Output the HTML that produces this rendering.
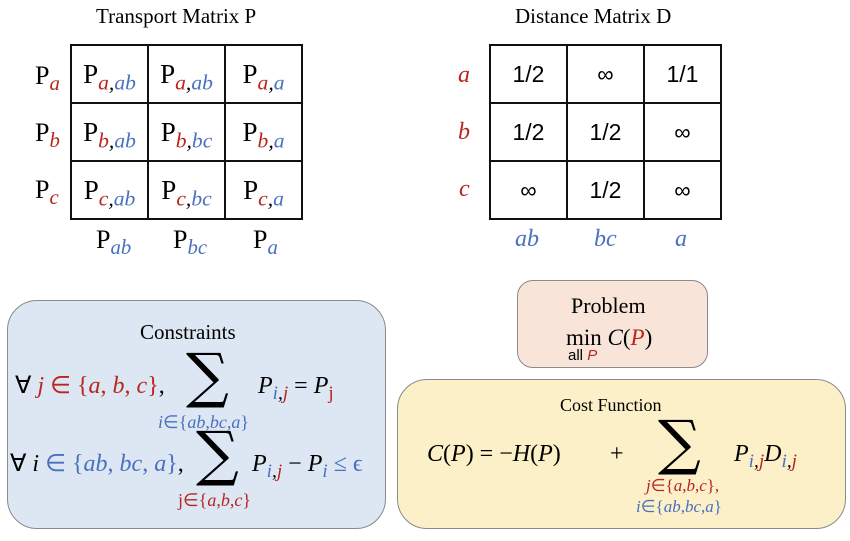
<!DOCTYPE html>
<html><head><meta charset="utf-8"><style>
body{margin:0;width:850px;height:541px;background:#fff;position:relative;overflow:hidden;font-family:"Liberation Serif",serif;color:#000}
.a{position:absolute;white-space:nowrap;line-height:1}
.r{color:#b8261e}.b{color:#4a70c0}
i{font-style:italic}
.grid{position:absolute;border-collapse:collapse}
.grid td{border:2px solid #111;padding:0;text-align:center;vertical-align:middle}
.t td{width:75px;height:56px;font-size:27px}
.d td{width:75px;height:56px;font-size:23px;font-family:"Liberation Sans",sans-serif}
sub{font-size:0.8em;font-style:italic;vertical-align:-0.3em;line-height:0}
.box{position:absolute;border:1.5px solid #8a8a8a;border-radius:30px}
.sig{font-size:60px;font-family:"DejaVu Serif",serif}
</style></head><body>
<div class="a" style="left:96px;top:6px;font-size:21px">Transport Matrix P</div>
<div class="a" style="left:515px;top:6px;font-size:21px">Distance Matrix D</div>

<table class="grid t" style="left:70px;top:44px">
<tr><td>P<sub><span class="r">a</span>,<span class="b">ab</span></sub></td><td>P<sub><span class="r">a</span>,<span class="b">ab</span></sub></td><td>P<sub><span class="r">a</span>,<span class="b">a</span></sub></td></tr>
<tr><td>P<sub><span class="r">b</span>,<span class="b">ab</span></sub></td><td>P<sub><span class="r">b</span>,<span class="b">bc</span></sub></td><td>P<sub><span class="r">b</span>,<span class="b">a</span></sub></td></tr>
<tr><td>P<sub><span class="r">c</span>,<span class="b">ab</span></sub></td><td>P<sub><span class="r">c</span>,<span class="b">bc</span></sub></td><td>P<sub><span class="r">c</span>,<span class="b">a</span></sub></td></tr>
</table>
<div class="a" style="left:35px;top:63px;font-size:26px">P<sub class="r">a</sub></div>
<div class="a" style="left:35px;top:120px;font-size:26px">P<sub class="r">b</sub></div>
<div class="a" style="left:35px;top:177px;font-size:26px">P<sub class="r">c</sub></div>
<div class="a" style="left:96px;top:227px;font-size:26px">P<sub class="b">ab</sub></div>
<div class="a" style="left:173px;top:227px;font-size:26px">P<sub class="b">bc</sub></div>
<div class="a" style="left:253px;top:227px;font-size:26px">P<sub class="b">a</sub></div>

<table class="grid d" style="left:489px;top:44px">
<tr><td>1/2</td><td>∞</td><td>1/1</td></tr>
<tr><td>1/2</td><td>1/2</td><td>∞</td></tr>
<tr><td>∞</td><td>1/2</td><td>∞</td></tr>
</table>
<div class="a r" style="left:458px;top:63px;font-size:24px"><i>a</i></div>
<div class="a r" style="left:458px;top:120px;font-size:24px"><i>b</i></div>
<div class="a r" style="left:459px;top:177px;font-size:24px"><i>c</i></div>
<div class="a b" style="left:515px;top:227px;font-size:24px"><i>ab</i></div>
<div class="a b" style="left:594px;top:227px;font-size:24px"><i>bc</i></div>
<div class="a b" style="left:675px;top:227px;font-size:24px"><i>a</i></div>

<div class="box" style="left:7px;top:300px;width:377px;height:227px;background:#dce7f3"></div>
<div class="a" style="left:140px;top:322px;font-size:21px">Constraints</div>
<div class="a" style="left:15px;top:374px;font-size:24px">∀ <i class="r">j</i> <span class="r">∈ {<i>a</i>, <i>b</i>, <i>c</i>}</span>,</div>
<div class="a sig" style="left:186px;top:346px">∑</div>
<div class="a b" style="left:158px;top:413px;font-size:18px"><i>i</i>∈{<i>ab</i>,<i>bc</i>,<i>a</i>}</div>
<div class="a" style="left:258px;top:374px;font-size:24px"><i>P</i><sub><span class="b">i</span>,<span class="r">j</span></sub> = <i>P</i><sub class="r" style="font-style:normal">j</sub></div>
<div class="a" style="left:10px;top:452px;font-size:24px">∀ <i>i</i> <span class="b">∈ {<i>ab</i>, <i>bc</i>, <i>a</i>}</span>,</div>
<div class="a sig" style="left:196px;top:424px">∑</div>
<div class="a r" style="left:178px;top:491px;font-size:18px">j∈{<i>a</i>,<i>b</i>,<i>c</i>}</div>
<div class="a" style="left:252px;top:452px;font-size:24px"><i>P</i><sub><span class="b">i</span>,<span class="r">j</span></sub> − <i>P</i><sub class="b">i</sub> <span class="b">≤ ϵ</span></div>

<div class="box" style="left:517px;top:280px;width:189px;height:86px;border-radius:16px;background:#f8e4d8"></div>
<div class="a" style="left:571px;top:295px;font-size:22px">Problem</div>
<div class="a" style="left:566px;top:326px;font-size:23px">min <i>C</i>(<i class="r">P</i>)</div>
<div class="a" style="left:568px;top:348px;font-size:15px;font-family:'Liberation Sans',sans-serif">all <i class="r">P</i></div>

<div class="box" style="left:397px;top:379px;width:447px;height:148px;background:#fcf0c8"></div>
<div class="a" style="left:560px;top:396px;font-size:18px">Cost Function</div>
<div class="a" style="left:427px;top:442px;font-size:24px"><i>C</i>(<i>P</i>) = −<i>H</i>(<i>P</i>)</div>
<div class="a" style="left:610px;top:442px;font-size:24px">+</div>
<div class="a sig" style="left:658px;top:413px">∑</div>
<div class="a r" style="left:646px;top:477px;font-size:17px"><i>j</i>∈{<i>a</i>,<i>b</i>,<i>c</i>},</div>
<div class="a b" style="left:636px;top:498px;font-size:17px"><i>i</i>∈{<i>ab</i>,<i>bc</i>,<i>a</i>}</div>
<div class="a" style="left:734px;top:442px;font-size:24px"><i>P</i><sub><span class="b">i</span>,<span class="r">j</span></sub><i>D</i><sub><span class="b">i</span>,<span class="r">j</span></sub></div>
</body></html>
